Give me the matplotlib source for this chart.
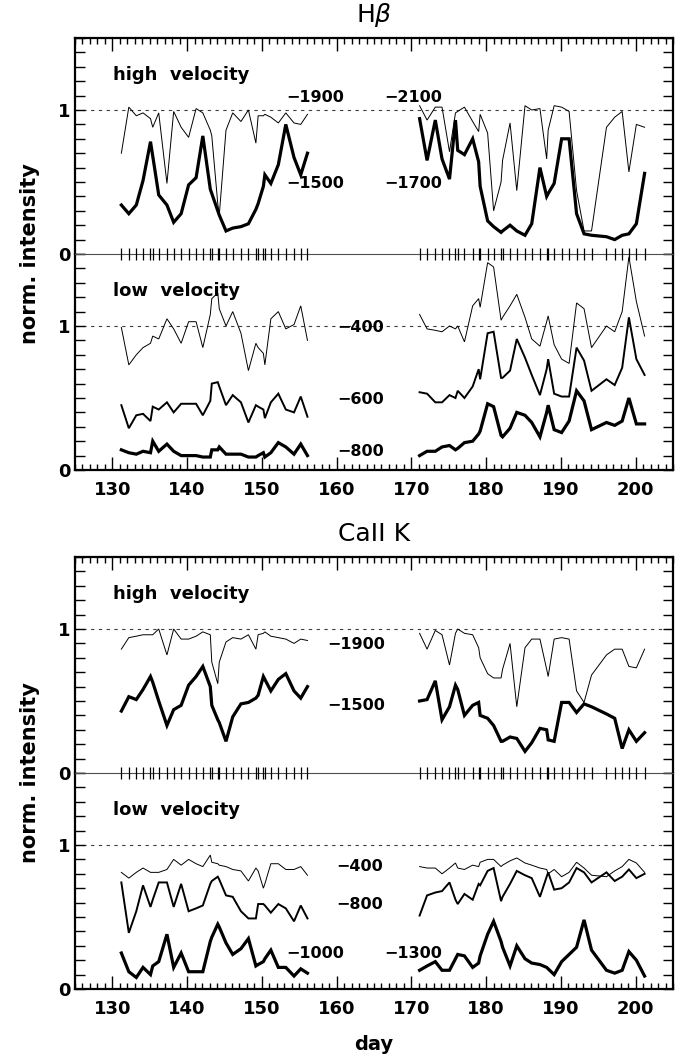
import numpy as np
import matplotlib.pyplot as plt
from matplotlib.ticker import MultipleLocator

# observation days, first and second season
days_a = [131.2, 132.2, 133.2, 134.1, 135.1, 135.4, 136.2, 137.3, 138.2, 139.2, 140.2,
          141.2, 142.1, 143.1, 143.3, 144.1, 144.3, 145.2, 146.1, 147.2, 148.2, 149.2,
          149.5, 150.2, 150.4, 151.2, 152.2, 153.2, 154.3, 155.2, 156.1]
days_b = [171.1, 172.1, 173.2, 174.1, 175.1, 175.9, 176.2, 177.1, 178.2, 179.0, 179.2,
          180.2, 181.0, 182.0, 182.2, 183.2, 184.1, 185.2, 186.1, 187.2, 188.1, 188.3,
          189.1, 190.1, 191.1, 192.1, 193.1, 194.1, 196.1, 197.2, 198.2, 199.1, 200.1, 201.2]

# H beta, high velocity
hb_high_1900_a = [0.70, 1.02, 0.96, 0.98, 0.94, 0.88, 0.98, 0.49, 0.99, 0.88, 0.81, 1.01, 0.98,
                  0.86, 0.82, 0.35, 0.27, 0.86, 0.98, 0.92, 1.00, 0.77, 0.96, 0.96, 0.97, 0.95,
                  0.91, 0.98, 0.91, 0.90, 0.97]
hb_high_1500_a = [0.34, 0.28, 0.34, 0.51, 0.78, 0.68, 0.41, 0.34, 0.22, 0.28, 0.48, 0.53, 0.82,
                  0.45, 0.42, 0.30, 0.27, 0.16, 0.18, 0.19, 0.21, 0.31, 0.35, 0.47, 0.55, 0.49,
                  0.62, 0.90, 0.67, 0.55, 0.70]
hb_high_2100_b = [1.03, 0.93, 1.02, 1.02, 0.71, 0.98, 0.99, 1.02, 0.92, 0.85, 0.97, 0.84, 0.30,
                  0.50, 0.65, 0.91, 0.44, 1.03, 1.00, 1.01, 0.66, 0.86, 1.03, 1.02, 0.99, 0.44,
                  0.16, 0.16, 0.88, 0.95, 0.99, 0.57, 0.90, 0.88]
hb_high_1700_b = [0.94, 0.65, 0.93, 0.66, 0.52, 0.93, 0.72, 0.69, 0.80, 0.64, 0.47, 0.23, 0.19,
                  0.15, 0.16, 0.20, 0.16, 0.13, 0.21, 0.60, 0.40, 0.42, 0.49, 0.80, 0.80, 0.28,
                  0.14, 0.13, 0.12, 0.10, 0.13, 0.14, 0.21, 0.56]

# H beta, low velocity
hb_low_400_a = [0.99, 0.73, 0.80, 0.85, 0.88, 0.93, 0.91, 1.05, 0.98, 0.88, 1.03, 1.03, 0.85,
                1.08, 1.19, 1.23, 1.12, 1.00, 1.10, 0.95, 0.69, 0.88, 0.85, 0.81, 0.73, 1.05,
                1.10, 0.98, 1.01, 1.14, 0.90]
hb_low_600_a = [0.45, 0.29, 0.38, 0.39, 0.34, 0.44, 0.42, 0.47, 0.40, 0.46, 0.46, 0.46, 0.38,
                0.48, 0.60, 0.61, 0.58, 0.45, 0.52, 0.47, 0.33, 0.45, 0.44, 0.42, 0.36, 0.47,
                0.53, 0.42, 0.40, 0.51, 0.37]
hb_low_800_a = [0.14, 0.12, 0.11, 0.13, 0.12, 0.20, 0.13, 0.18, 0.13, 0.10, 0.10, 0.10, 0.09,
                0.09, 0.14, 0.14, 0.16, 0.11, 0.11, 0.11, 0.09, 0.09, 0.10, 0.12, 0.09, 0.12,
                0.19, 0.16, 0.11, 0.18, 0.10]
hb_low_400_b = [1.08, 0.98, 0.97, 0.96, 1.00, 0.98, 1.00, 0.89, 1.14, 1.19, 1.13, 1.44, 1.41,
                1.04, 1.06, 1.14, 1.22, 1.06, 0.91, 0.86, 1.03, 1.07, 0.87, 0.77, 0.74, 1.16,
                1.12, 0.85, 1.00, 0.96, 1.10, 1.48, 1.17, 0.93]
hb_low_600_b = [0.54, 0.53, 0.47, 0.47, 0.52, 0.50, 0.55, 0.50, 0.58, 0.70, 0.63, 0.95, 0.96,
                0.64, 0.64, 0.69, 0.91, 0.78, 0.66, 0.52, 0.70, 0.77, 0.53, 0.51, 0.51, 0.85,
                0.76, 0.55, 0.63, 0.59, 0.71, 1.06, 0.77, 0.66]
hb_low_800_b = [0.10, 0.13, 0.13, 0.16, 0.17, 0.14, 0.15, 0.19, 0.20, 0.25, 0.27, 0.46, 0.44,
                0.24, 0.23, 0.29, 0.40, 0.38, 0.33, 0.23, 0.40, 0.45, 0.28, 0.26, 0.34, 0.55,
                0.48, 0.28, 0.33, 0.31, 0.34, 0.50, 0.32, 0.32]

# CaII K, high velocity
ca_high_1900_a = [0.86, 0.94, 0.95, 0.96, 0.96, 0.96, 1.00, 0.82, 1.00, 0.93, 0.93, 0.95, 0.98,
                  0.96, 0.77, 0.62, 0.77, 0.91, 0.94, 0.93, 0.96, 0.86, 0.96, 0.97, 0.98, 0.95,
                  0.94, 0.93, 0.90, 0.93, 0.92]
ca_high_1500_a = [0.43, 0.53, 0.51, 0.58, 0.67, 0.63, 0.50, 0.33, 0.44, 0.47, 0.61, 0.67, 0.74,
                  0.60, 0.47, 0.37, 0.35, 0.22, 0.39, 0.48, 0.49, 0.52, 0.54, 0.67, 0.65, 0.57,
                  0.65, 0.69, 0.57, 0.52, 0.60]
ca_high_1900_b = [0.97, 0.86, 0.99, 0.96, 0.75, 0.97, 1.00, 0.97, 0.96, 0.87, 0.80, 0.69, 0.66,
                  0.66, 0.72, 0.90, 0.46, 0.87, 0.93, 0.93, 0.72, 0.67, 0.93, 0.94, 0.93, 0.57,
                  0.49, 0.68, 0.82, 0.86, 0.86, 0.74, 0.73, 0.86]
ca_high_1500_b = [0.50, 0.51, 0.64, 0.37, 0.46, 0.61, 0.58, 0.40, 0.47, 0.49, 0.40, 0.38, 0.33,
                  0.22, 0.22, 0.25, 0.24, 0.15, 0.21, 0.31, 0.30, 0.23, 0.22, 0.49, 0.49, 0.42,
                  0.48, 0.46, 0.41, 0.38, 0.17, 0.30, 0.22, 0.28]

# CaII K, low velocity
ca_low_400_a = [0.81, 0.77, 0.81, 0.84, 0.81, 0.81, 0.81, 0.83, 0.90, 0.86, 0.90, 0.87, 0.85,
                0.93, 0.88, 0.87, 0.86, 0.85, 0.83, 0.82, 0.75, 0.84, 0.82, 0.70, 0.73, 0.87,
                0.87, 0.83, 0.83, 0.85, 0.79]
ca_low_800_a = [0.74, 0.39, 0.54, 0.72, 0.57, 0.62, 0.74, 0.74, 0.57, 0.73, 0.54, 0.56, 0.58,
                0.73, 0.75, 0.78, 0.76, 0.65, 0.64, 0.54, 0.49, 0.49, 0.59, 0.59, 0.58, 0.53,
                0.59, 0.56, 0.47, 0.58, 0.49]
ca_low_1000_a = [0.25, 0.12, 0.08, 0.15, 0.10, 0.16, 0.19, 0.38, 0.15, 0.25, 0.12, 0.12, 0.12,
                 0.33, 0.36, 0.45, 0.43, 0.32, 0.24, 0.28, 0.35, 0.16, 0.17, 0.19, 0.21, 0.27,
                 0.15, 0.15, 0.09, 0.14, 0.11]
ca_low_400_b = [0.85, 0.84, 0.84, 0.80, 0.84, 0.875, 0.84, 0.83, 0.86, 0.85, 0.88, 0.90, 0.90,
                0.85, 0.86, 0.89, 0.91, 0.875, 0.86, 0.84, 0.83, 0.80, 0.83, 0.78, 0.81, 0.88,
                0.84, 0.79, 0.78, 0.82, 0.85, 0.90, 0.875, 0.81]
ca_low_800_b = [0.51, 0.65, 0.67, 0.68, 0.74, 0.62, 0.59, 0.66, 0.62, 0.73, 0.72, 0.82, 0.84,
                0.61, 0.64, 0.73, 0.82, 0.79, 0.77, 0.64, 0.78, 0.81, 0.69, 0.70, 0.74, 0.84,
                0.81, 0.74, 0.81, 0.75, 0.78, 0.83, 0.77, 0.80]
ca_low_1300_b = [0.13, 0.16, 0.19, 0.13, 0.13, 0.21, 0.24, 0.23, 0.15, 0.18, 0.23, 0.38, 0.47,
                 0.33, 0.29, 0.16, 0.30, 0.21, 0.18, 0.17, 0.15, 0.14, 0.10, 0.19, 0.24, 0.29,
                 0.48, 0.27, 0.13, 0.11, 0.13, 0.26, 0.20, 0.09]

obs_days = days_a + days_b

THIN, MID, THICK = 0.7, 1.4, 2.3
FONT = 'DejaVu Sans'

fig = plt.figure(figsize=(6.91, 10.61), dpi=100)

L, W, H = 75 / 691, 598 / 691, 216 / 1061


def setup(ax, bottom_panel):
    ax.set_xlim(125, 205)
    ax.set_ylim(0, 1.5)
    ax.axhline(1.0, color='0.25', lw=0.8, dashes=(3, 4), zorder=1)
    ax.xaxis.set_major_locator(MultipleLocator(10))
    ax.xaxis.set_minor_locator(MultipleLocator(1))
    ax.yaxis.set_major_locator(MultipleLocator(1))
    ax.yaxis.set_minor_locator(MultipleLocator(0.1))
    ax.tick_params(which='both', direction='in', left=True, right=True,
                   top=not bottom_panel, bottom=bottom_panel,
                   labelbottom=bottom_panel, width=1.0, labelsize=13)
    ax.tick_params(axis='x', which='major', length=9.5, pad=8)
    ax.tick_params(axis='x', which='minor', length=4.5)
    ax.tick_params(axis='y', which='both', length=7)
    for lab in ax.get_xticklabels() + ax.get_yticklabels():
        lab.set_fontweight('bold')
    for s in ax.spines.values():
        s.set_linewidth(1.6)
    if bottom_panel:
        ax.spines['top'].set_linewidth(0.8)
        ax.spines['top'].set_color('0.3')
        # observation dates on the panel boundary
        ax.vlines(obs_days, 0.973, 1.027, transform=ax.get_xaxis_transform(),
                  colors='k', lw=0.9, clip_on=False, zorder=6)
    else:
        ax.spines['bottom'].set_visible(False)


def label(ax, day, val, txt):
    ax.text(day, val, txt, fontsize=11.5, fontweight='bold', va='center', ha='left',
            family=FONT)


def block(y_top_px, title, high, low):
    b_high = 1 - (y_top_px + 216) / 1061
    b_low = 1 - (y_top_px + 432) / 1061
    ax_h = fig.add_axes([L, b_high, W, H])
    ax_l = fig.add_axes([L, b_low, W, H])
    setup(ax_h, False)
    setup(ax_l, True)

    for days, vals, lw in high['lines']:
        ax_h.plot(days, vals, color='k', lw=lw, solid_joinstyle='miter')
    for days, vals, lw in low['lines']:
        ax_l.plot(days, vals, color='k', lw=lw, solid_joinstyle='miter')
    for d, v, t in high['labels']:
        label(ax_h, d, v, t)
    for d, v, t in low['labels']:
        label(ax_l, d, v, t)

    ax_h.text(0.064, 0.83, 'high  velocity', transform=ax_h.transAxes,
              fontsize=13, fontweight='bold', va='center')
    ax_l.text(0.064, 0.83, 'low  velocity', transform=ax_l.transAxes,
              fontsize=13, fontweight='bold', va='center')

    fig.text(L + W / 2, 1 - (y_top_px - 23) / 1061, title, fontsize=18,
             ha='center', va='center')
    fig.text(30 / 691, 1 - (y_top_px + 216) / 1061, 'norm. intensity', rotation=90,
             fontsize=15, fontweight='bold', ha='center', va='center')
    return ax_l


block(38, r'H$\beta$',
      {'lines': [(days_a, hb_high_1900_a, THIN), (days_a, hb_high_1500_a, THICK),
                 (days_b, hb_high_2100_b, THIN), (days_b, hb_high_1700_b, THICK)],
       'labels': [(153.3, 1.09, '−1900'), (153.3, 0.49, '−1500'),
                  (166.4, 1.09, '−2100'), (166.4, 0.49, '−1700')]},
      {'lines': [(days_a, hb_low_400_a, THIN), (days_a, hb_low_600_a, MID),
                 (days_a, hb_low_800_a, THICK),
                 (days_b, hb_low_400_b, THIN), (days_b, hb_low_600_b, MID),
                 (days_b, hb_low_800_b, THICK)],
       'labels': [(160.1, 0.99, '−400'), (160.1, 0.49, '−600'), (160.1, 0.13, '−800')]})

ax_last = block(557, 'CaII K',
                {'lines': [(days_a, ca_high_1900_a, THIN), (days_a, ca_high_1500_a, THICK),
                           (days_b, ca_high_1900_b, THIN), (days_b, ca_high_1500_b, THICK)],
                 'labels': [(158.8, 0.89, '−1900'), (158.8, 0.47, '−1500')]},
                {'lines': [(days_a, ca_low_400_a, THIN), (days_a, ca_low_800_a, MID),
                           (days_a, ca_low_1000_a, THICK),
                           (days_b, ca_low_400_b, THIN), (days_b, ca_low_800_b, MID),
                           (days_b, ca_low_1300_b, THICK)],
                 'labels': [(159.9, 0.85, '−400'), (159.9, 0.59, '−800'),
                            (153.2, 0.25, '−1000'), (166.4, 0.25, '−1300')]})

fig.text(L + W / 2, 1 - 1045 / 1061, 'day', fontsize=14, fontweight='bold',
         ha='center', va='center')

fig.savefig('out.png', dpi=100)
